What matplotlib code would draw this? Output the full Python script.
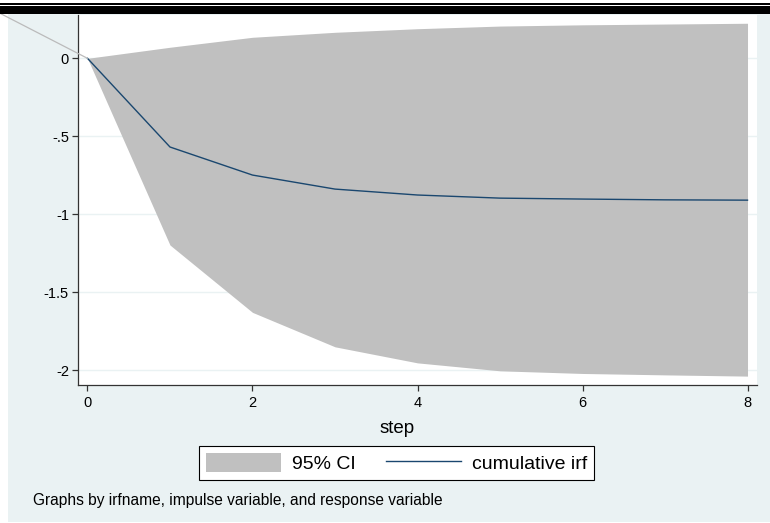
import matplotlib
matplotlib.use("Agg")
import matplotlib.pyplot as plt
from matplotlib.patches import Rectangle, Patch, ConnectionPatch
from matplotlib.lines import Line2D

# ---- data ----
steps = [0, 1, 2, 3, 4, 5, 6, 7, 8]
irf = [0.0, -0.569, -0.749, -0.839, -0.877, -0.897, -0.903, -0.908, -0.910]
ci_low = [0.0, -1.198, -1.630, -1.851, -1.954, -2.005, -2.022, -2.031, -2.039]
ci_high = [0.0, 0.071, 0.135, 0.167, 0.190, 0.207, 0.215, 0.220, 0.225]
yticks = [0, -0.5, -1, -1.5, -2]
ytick_labels = ["0", "-.5", "-1", "-1.5", "-2"]
xticks = [0, 2, 4, 6, 8]
xlabel = "step"
legend_labels = ["95% CI", "cumulative irf"]
note = "Graphs by irfname, impulse variable, and response variable"

plt.rcParams['font.family'] = ['Liberation Sans', 'DejaVu Sans']

W, H = 770, 523
fig = plt.figure(figsize=(W / 100, H / 100), dpi=100, facecolor="white")

def fx(px):
    return px / W

def fy(py):
    return 1 - py / H

BG = "#EAF2F3"
NAVY = "#1A476F"
CI = "#C0C0C0"

# graph region background
fig.patches.append(Rectangle((fx(8), fy(522)), fx(770) - fx(8), fy(14) - fy(522),
                             transform=fig.transFigure, facecolor=BG, edgecolor="none", zorder=-2))
# top frame bars (cropped border)
fig.patches.append(Rectangle((0, fy(5)), 1, fy(3) - fy(5), transform=fig.transFigure,
                             facecolor="black", edgecolor="none", zorder=5))
fig.patches.append(Rectangle((0, fy(13.5)), 1, fy(6) - fy(13.5), transform=fig.transFigure,
                             facecolor="black", edgecolor="none", zorder=5))

ax = fig.add_axes([fx(78), fy(385), fx(757) - fx(78), fy(15) - fy(385)])
ax.set_zorder(1)
ax.set_facecolor("white")

ax.fill_between(steps, ci_low, ci_high, color=CI, linewidth=0, zorder=2)
ax.plot(steps, irf, color=NAVY, linewidth=1.0, zorder=3)

ax.set_xlim(-0.115, 8.115)
ax.set_ylim(-2.096, 0.278)
ax.set_yticks(yticks)
ax.set_yticklabels(ytick_labels)
ax.set_xticks(xticks)
ax.set_xticklabels([str(t) for t in xticks])
ax.grid(axis="y", color=BG, linewidth=1.0, zorder=1)
ax.set_axisbelow(True)

for s in ["top", "right"]:
    ax.spines[s].set_visible(False)
for s in ["left", "bottom"]:
    ax.spines[s].set_color("#333333")
    ax.spines[s].set_linewidth(0.9)

ax.tick_params(axis="both", colors="#333333", labelcolor="black", labelsize=10.5,
               length=4.5, width=0.9)
ax.tick_params(axis="y", pad=2)
ax.tick_params(axis="x", pad=3.5)

# diagonal artifact line from the top-left corner to the origin point
con = ConnectionPatch(xyA=(0, fy(13.3)), coordsA=fig.transFigure,
                      xyB=(steps[0], irf[0]), coordsB=ax.transData,
                      color="#BBBBBB", linewidth=0.9, zorder=4)
fig.add_artist(con)

fig.text(fx(397), fy(433), xlabel, ha="center", va="baseline", fontsize=13.5)

handles = [Patch(facecolor=CI, edgecolor="none"),
           Line2D([], [], color=NAVY, linewidth=1.0)]
leg = fig.legend(handles, legend_labels, loc="center",
                 bbox_to_anchor=(fx(396.5), fy(463)), ncol=2, fontsize=14,
                 frameon=True, fancybox=False, shadow=False, framealpha=1,
                 edgecolor="black", handlelength=3.85, handleheight=1.08,
                 handletextpad=0.58, columnspacing=1.55, borderpad=0.35,
                 borderaxespad=0)
leg.get_frame().set_linewidth(0.8)

fig.text(fx(32.7), fy(505), note, ha="left", va="baseline", fontsize=11.2)

fig.savefig("out.png", dpi=100, facecolor="white")
